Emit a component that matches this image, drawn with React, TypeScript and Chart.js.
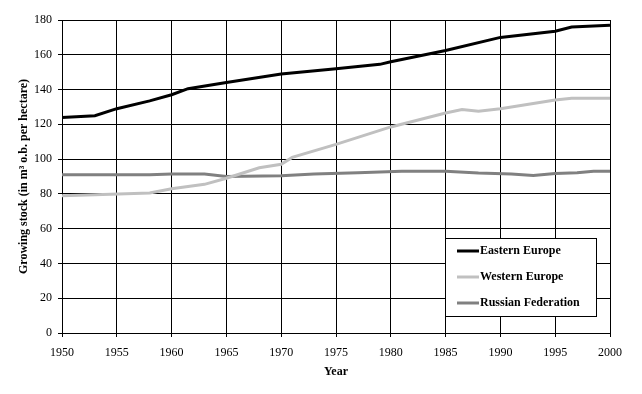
import React, { useEffect, useRef } from "react";
import { Chart, registerables } from "chart.js";

Chart.register(...registerables);

const seriesNames = ["Eastern Europe", "Western Europe", "Russian Federation"];
const seriesColors = ["#000000", "#C0C0C0", "#808080"];

const easternYears = [1950, 1953, 1955, 1958, 1960, 1961.5, 1965, 1970, 1975, 1979, 1980, 1985, 1990, 1995, 1996.5, 2000];
const easternValues = [124, 125, 129, 133.5, 137, 140.5, 144, 149, 152, 154.5, 156, 162.5, 170, 173.5, 176, 177];

const westernYears = [1950, 1953, 1958, 1960, 1963, 1965, 1968, 1970, 1971, 1975, 1980, 1985, 1986.5, 1988, 1990, 1995, 1996.5, 2000];
const westernValues = [79, 79.5, 80.5, 83, 85.5, 89, 95, 97, 101, 108.5, 118.5, 126.5, 128.5, 127.5, 129, 134, 135, 135];

const russianYears = [1950, 1958, 1960, 1963, 1965, 1970, 1973, 1977, 1981, 1985, 1988, 1991, 1993, 1995, 1997, 1998.5, 2000];
const russianValues = [91, 91, 91.5, 91.5, 90, 90.5, 91.5, 92.2, 93, 93, 92, 91.5, 90.6, 91.7, 92.2, 93, 93];

const xTicks = { min: 1950, max: 2000, step: 5 };
const yTicks = { min: 0, max: 180, step: 20 };

const FONT = "'Liberation Serif', 'Times New Roman', serif";

const legendBox = {
  id: "legendBox",
  afterDraw(chart: any) {
    const { ctx, chartArea } = chart;
    const w = 151;
    const h = 78;
    const x = chartArea.right - 14 - w;
    const y = chartArea.top + 218;
    ctx.save();
    ctx.fillStyle = "#ffffff";
    ctx.fillRect(x, y, w, h);
    ctx.strokeStyle = "#000000";
    ctx.lineWidth = 1;
    ctx.strokeRect(x + 0.5, y + 0.5, w, h);
    ctx.font = `bold 12px ${FONT}`;
    ctx.textBaseline = "middle";
    ctx.textAlign = "left";
    chart.data.datasets.forEach((ds: any, i: number) => {
      const ry = y + 13 + i * 26;
      ctx.strokeStyle = ds.borderColor;
      ctx.lineWidth = 3;
      ctx.beginPath();
      ctx.moveTo(x + 12, ry);
      ctx.lineTo(x + 34, ry);
      ctx.stroke();
      ctx.fillStyle = "#000000";
      ctx.fillText(ds.label, x + 35, ry);
    });
    ctx.restore();
  },
};

function toPoints(xs: number[], ys: number[]) {
  return xs.map((x, i) => ({ x, y: ys[i] }));
}

export default function App() {
  const ref = useRef<HTMLCanvasElement>(null);
  useEffect(() => {
    document.body.style.margin = "0";
    const canvas = ref.current!;
    const datasets = [
      toPoints(easternYears, easternValues),
      toPoints(westernYears, westernValues),
      toPoints(russianYears, russianValues),
    ].map((data, i) => ({
      label: seriesNames[i],
      data,
      borderColor: seriesColors[i],
      backgroundColor: seriesColors[i],
      borderWidth: 3,
      pointRadius: 0,
      tension: 0,
      fill: false,
    }));
    const chart = new Chart(canvas, {
      type: "line",
      data: { datasets },
      plugins: [legendBox],
      options: {
        animation: false,
        responsive: false,
        layout: { padding: { left: 0, right: 32, top: 20, bottom: 0 } },
        plugins: { legend: { display: false }, tooltip: { enabled: false } },
        scales: {
          x: {
            type: "linear",
            min: xTicks.min,
            max: xTicks.max,
            afterFit: (s: any) => { s.height = 61; },
            ticks: {
              stepSize: xTicks.step,
              color: "#000",
              font: { family: FONT, size: 12 },
              padding: 9,
              maxRotation: 0,
              callback: (v: any) => String(v),
            },
            grid: { color: "#000", lineWidth: 1, tickLength: 4, tickColor: "#000" },
            border: { color: "#000", width: 1 },
            title: {
              display: true,
              text: "Year",
              color: "#000",
              font: { family: FONT, size: 12, weight: "bold" },
              padding: { top: 4, bottom: 15 },
            },
          },
          y: {
            min: yTicks.min,
            max: yTicks.max,
            afterFit: (s: any) => { s.width = 62; },
            ticks: {
              stepSize: yTicks.step,
              color: "#000",
              font: { family: FONT, size: 12 },
              padding: 6,
            },
            grid: { color: "#000", lineWidth: 1, tickLength: 4, tickColor: "#000" },
            border: { color: "#000", width: 1 },
            title: {
              display: true,
              text: "Growing stock (in m³ o.b. per hectare)",
              color: "#000",
              font: { family: FONT, size: 12, weight: "bold" },
              padding: { top: 17, bottom: 0 },
            },
          },
        },
      },
    });
    return () => chart.destroy();
  }, []);
  return (
    <div style={{ width: 642, height: 394 }}>
      <canvas ref={ref} width={642} height={394} />
    </div>
  );
}
